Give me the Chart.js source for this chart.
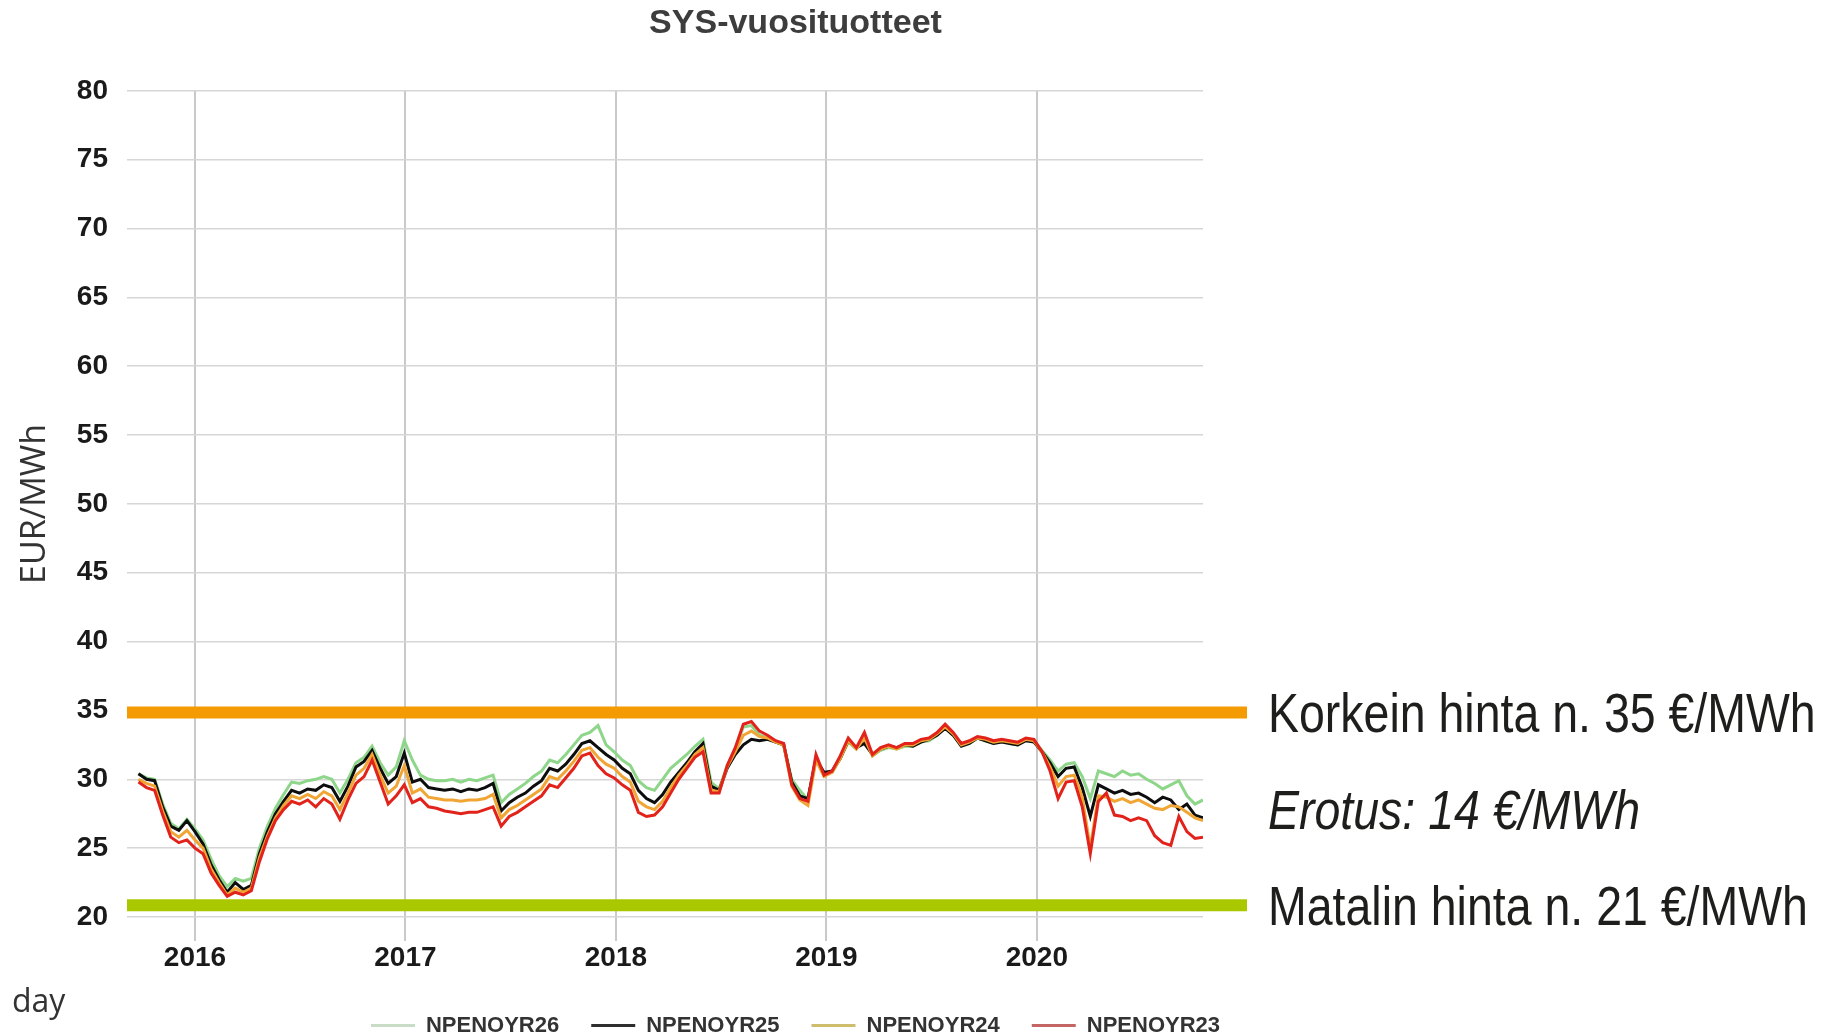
<!DOCTYPE html>
<html>
<head>
<meta charset="utf-8">
<script src="https://cdn.jsdelivr.net/npm/chart.js@4"></script>
<style>
html,body{margin:0;padding:0;background:#ffffff;}
#wrap{width:1841px;height:1035px;position:relative;}
</style>
</head>
<body>
<div id="wrap"><canvas id="c" width="1841" height="1035"></canvas></div>
<script>
// ---------- data ----------
const chartTitle = 'SYS-vuosituotteet';
const yAxisTitle = 'EUR/MWh';
const xAxisTitle = 'day';
const seriesNames = ['NPENOYR26', 'NPENOYR25', 'NPENOYR24', 'NPENOYR23'];
const startDate = '2015-09-25';
const stepDays = 14;
const yearTicks = [2016, 2017, 2018, 2019, 2020];
const yearTickLabels = ['2016', '2017', '2018', '2019', '2020'];
const yMin = 20, yMax = 80, yStep = 5;

const npenoyr26 = [30.4,30.1,30.0,28.2,26.8,26.4,27.1,26.4,25.6,24.2,
23.0,22.2,22.8,22.6,22.8,25.0,26.6,27.9,28.9,29.8,
29.7,29.9,30.0,30.2,30.0,29.0,30.0,31.2,31.6,32.4,
31.2,30.3,30.9,32.8,31.4,30.3,30.0,29.9,29.9,30.0,
29.8,30.0,29.9,30.1,30.3,28.3,28.9,29.3,29.7,30.2,
30.6,31.4,31.2,31.8,32.5,33.2,33.4,33.9,32.5,32.0,
31.4,31.0,29.9,29.4,29.2,30.0,30.8,31.3,31.8,32.4,
32.9,29.8,29.3,31.0,32.2,33.8,33.9,33.2,33.0,32.7,
32.5,30.0,29.2,28.5,31.6,30.4,30.5,31.5,32.7,32.2,
33.0,31.7,32.1,32.3,32.2,32.4,32.4,32.7,32.8,33.2,
33.8,33.2,32.5,32.6,33.0,32.8,32.6,32.8,32.6,32.5,
32.9,32.8,32.1,31.4,30.6,31.1,31.2,30.2,28.6,30.6,
30.4,30.2,30.6,30.3,30.4,30.0,29.7,29.3,29.6,29.9,
28.8,28.2,28.5];

const npenoyr25 = [30.4,30.0,29.9,28.0,26.6,26.3,27.0,26.2,25.3,23.8,
22.7,21.8,22.5,22.0,22.3,24.6,26.2,27.5,28.4,29.2,
29.0,29.3,29.2,29.6,29.4,28.4,29.5,30.9,31.3,32.1,
30.8,29.7,30.2,31.9,29.8,30.0,29.4,29.3,29.2,29.3,
29.1,29.3,29.2,29.4,29.7,27.7,28.3,28.7,29.0,29.5,
29.9,30.8,30.6,31.1,31.8,32.6,32.8,32.3,31.8,31.4,
30.8,30.4,29.2,28.6,28.3,28.9,29.8,30.5,31.2,32.0,
32.6,29.5,29.2,30.8,31.8,32.5,32.9,32.8,32.9,32.7,
32.5,29.8,28.8,28.6,31.5,30.5,30.6,31.5,32.8,32.3,
32.6,31.8,32.2,32.4,32.3,32.5,32.4,32.7,32.9,33.2,
33.7,33.2,32.4,32.6,33.0,32.8,32.6,32.7,32.6,32.5,
32.8,32.7,32.0,31.2,30.2,30.8,30.9,29.4,27.3,29.6,
29.3,29.0,29.2,28.9,29.0,28.7,28.3,28.7,28.5,27.8,
28.2,27.4,27.2];

const npenoyr24 = [30.0,29.7,29.5,27.7,26.2,25.8,26.3,25.6,25.0,23.5,
22.5,21.6,22.1,21.8,22.1,24.3,25.9,27.2,28.1,28.8,
28.6,28.9,28.6,29.1,28.8,27.8,29.0,30.3,30.8,31.8,
30.3,29.0,29.5,31.0,29.0,29.3,28.7,28.6,28.5,28.5,
28.4,28.5,28.5,28.6,28.9,27.2,27.8,28.1,28.5,28.9,
29.3,30.2,30.0,30.6,31.3,32.1,32.3,31.6,31.1,30.8,
30.2,29.8,28.4,28.0,27.8,28.4,29.4,30.3,31.0,31.8,
32.3,29.2,29.1,30.9,32.0,33.2,33.5,33.1,33.0,32.7,
32.5,29.5,28.5,28.1,31.4,30.2,30.5,31.5,32.8,32.2,
33.0,31.7,32.2,32.4,32.2,32.5,32.5,32.8,32.9,33.3,
33.8,33.3,32.5,32.7,33.0,32.9,32.7,32.8,32.7,32.6,
32.9,32.8,32.0,30.9,29.5,30.2,30.3,28.7,25.0,28.8,
28.7,28.4,28.6,28.3,28.5,28.2,27.9,27.8,28.1,28.0,
27.6,27.2,27.0];

const npenoyr23 = [29.8,29.4,29.2,27.4,25.8,25.4,25.6,25.0,24.6,23.2,
22.3,21.5,21.8,21.6,21.9,24.0,25.7,27.0,27.8,28.4,
28.2,28.5,28.0,28.6,28.2,27.1,28.5,29.7,30.2,31.4,
29.8,28.2,28.8,29.6,28.3,28.6,28.0,27.9,27.7,27.6,
27.5,27.6,27.6,27.8,28.0,26.6,27.3,27.6,28.0,28.4,
28.8,29.6,29.4,30.1,30.8,31.7,31.9,31.0,30.4,30.1,
29.6,29.2,27.6,27.3,27.4,28.0,29.0,30.0,30.8,31.6,
32.0,29.0,29.0,31.0,32.3,34.0,34.2,33.5,33.2,32.8,
32.6,29.6,28.6,28.4,31.8,30.3,30.6,31.7,33.0,32.3,
33.4,31.8,32.3,32.5,32.3,32.6,32.6,32.9,33.0,33.4,
34.0,33.4,32.6,32.8,33.1,33.0,32.8,32.9,32.8,32.7,
33.0,32.9,32.0,30.6,28.6,29.8,29.9,28.0,24.6,28.4,
29.0,27.4,27.3,27.0,27.2,27.0,25.9,25.4,25.2,27.3,
26.2,25.7,25.8];

const highPrice = 35;
const lowPrice = 21;
const sideLabels = ['Korkein hinta n. 35 \u20AC/MWh', 'Erotus: 14 \u20AC/MWh', 'Matalin hinta n. 21 \u20AC/MWh'];

// ---------- styles ----------
const lineColors = ['#8ed68a', '#0d0d0d', '#f0a534', '#e2231c'];
const legendColors = ['#c9dcc6', '#2e2e2e', '#cdbd6c', '#c46666'];
const drawOrder = [3, 2, 1, 0];
const highColor = '#f39b00';
const lowColor = '#a9c800';
const narrowFactor = 0.83;

// ---------- build ----------
function decimalYear(ms) {
  const d = new Date(ms);
  const y = d.getUTCFullYear();
  const s = Date.UTC(y, 0, 1), e = Date.UTC(y + 1, 0, 1);
  return y + (ms - s) / (e - s);
}
const startMs = Date.parse(startDate + 'T00:00:00Z');
const xValues = npenoyr25.map((_, i) => decimalYear(startMs + i * stepDays * 86400000));
const allSeries = [npenoyr26, npenoyr25, npenoyr24, npenoyr23];

const datasets = allSeries.map((s, k) => ({
  label: seriesNames[k],
  data: s.map((v, i) => ({x: xValues[i], y: v})),
  borderColor: lineColors[k],
  backgroundColor: lineColors[k],
  borderWidth: 3,
  pointRadius: 0,
  tension: 0,
  order: drawOrder[k]
}));

function narrowText(ctx, text, x, y) {
  ctx.save();
  ctx.translate(x, y);
  ctx.scale(narrowFactor, 1);
  ctx.fillText(text, 0, 0);
  ctx.restore();
}

const extrasPlugin = {
  id: 'extras',
  afterDatasetsDraw(chart) {
    const {ctx, chartArea, scales} = chart;
    const y = scales.y;
    ctx.save();
    ctx.lineWidth = 12;
    ctx.lineCap = 'butt';
    [[highPrice, highColor], [lowPrice, lowColor]].forEach(([v, c]) => {
      const py = y.getPixelForValue(v) + 2;
      ctx.strokeStyle = c;
      ctx.beginPath();
      ctx.moveTo(chartArea.left, py);
      ctx.lineTo(chartArea.right + 44, py);
      ctx.stroke();
    });
    ctx.restore();
  },
  afterDraw(chart) {
    const {ctx, chartArea, scales} = chart;
    const y = scales.y;
    ctx.save();
    ctx.textAlign = 'left';
    ctx.textBaseline = 'alphabetic';
    ctx.fillStyle = '#1e1e1c';
    const tx = chartArea.right + 65;
    const fam = '"Liberation Sans", Arial, sans-serif';
    ctx.font = '56px ' + fam;
    narrowText(ctx, sideLabels[0], tx, y.getPixelForValue(highPrice) + 22);
    ctx.font = 'italic 56px ' + fam;
    narrowText(ctx, sideLabels[1], tx, y.getPixelForValue((highPrice + lowPrice) / 2) + 22);
    ctx.font = '56px ' + fam;
    narrowText(ctx, sideLabels[2], tx, y.getPixelForValue(lowPrice) + 22);
    // x axis title at the far left
    ctx.fillStyle = '#333333';
    ctx.font = '32px "Open Sans", sans-serif';
    ctx.fillText(xAxisTitle, 12, scales.x.bottom + 29);
    ctx.restore();
  }
};

new Chart(document.getElementById('c'), {
  type: 'line',
  data: {datasets},
  plugins: [extrasPlugin],
  options: {
    responsive: false,
    animation: false,
    layout: {padding: {left: 0, right: 250, top: 0, bottom: 0}},
    plugins: {
      title: {
        display: true,
        text: chartTitle,
        color: '#3d3d3d',
        font: {family: 'Liberation Sans', size: 34, weight: 'bold'},
        padding: {top: 3, bottom: 47}
      },
      legend: {
        display: true,
        position: 'bottom',
        maxHeight: 52.5,
        labels: {
          boxWidth: 44,
          boxHeight: 3,
          padding: 32,
          color: '#333333',
          font: {family: 'Liberation Sans', size: 22, weight: 'bold'},
          generateLabels() {
            return seriesNames.map((name, i) => ({
              text: name,
              fillStyle: legendColors[i],
              strokeStyle: legendColors[i],
              lineWidth: 0,
              hidden: false,
              datasetIndex: i,
              fontColor: '#333333'
            }));
          }
        }
      },
      tooltip: {enabled: false}
    },
    scales: {
      x: {
        type: 'linear',
        min: 2015.677,
        max: xValues[xValues.length - 1],
        afterBuildTicks(scale) { scale.ticks = yearTicks.map(v => ({value: v})); },
        afterFit(scale) { scale.height = 65.5; },
        border: {display: false},
        grid: {color: '#c9c9c9', lineWidth: 2, drawTicks: true, tickLength: 24},
        ticks: {
          padding: 0,
          color: '#1a1a1a',
          font: {family: 'Liberation Sans', size: 28, weight: 'bold'},
          maxRotation: 0,
          callback(v) { const k = yearTicks.indexOf(v); return k >= 0 ? yearTickLabels[k] : ''; }
        }
      },
      y: {
        type: 'linear',
        position: 'left',
        min: yMin,
        max: yMax,
        afterFit(scale) { scale.width = 127; },
        border: {display: false},
        grid: {color: '#d6d6d6', lineWidth: 1.5, drawTicks: false},
        ticks: {
          stepSize: yStep,
          padding: 19,
          color: '#1a1a1a',
          font: {family: 'Liberation Sans', size: 28, weight: 'bold'}
        },
        title: {
          display: true,
          text: yAxisTitle,
          color: '#333333',
          font: {family: 'Open Sans', size: 34},
          padding: {top: 15, bottom: 0}
        }
      },
      y2: {
        type: 'linear',
        position: 'right',
        display: true,
        afterFit(scale) { scale.width = 388; },
        border: {display: false},
        grid: {display: false, drawTicks: false},
        ticks: {display: false}
      }
    }
  }
});
</script>
</body>
</html>
